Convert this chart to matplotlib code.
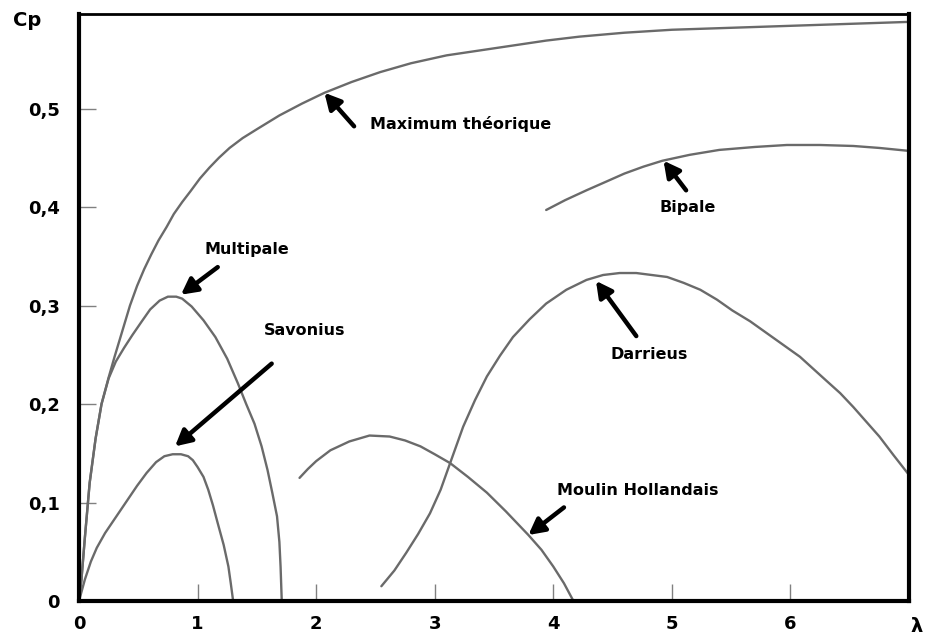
import matplotlib.pyplot as plt

# Cp vs tip speed ratio (lambda)
max_x = [0, 0.02, 0.05, 0.09, 0.14, 0.19, 0.25, 0.30, 0.37, 0.43, 0.49, 0.55, 0.61,
         0.67, 0.74, 0.80, 0.87, 0.94, 1.02, 1.10, 1.18, 1.27, 1.38, 1.50, 1.69, 1.88,
         2.07, 2.30, 2.54, 2.80, 3.10, 3.38, 3.66, 3.94, 4.22, 4.60, 5.0, 5.5, 6.0,
         6.5, 7.0]
max_y = [0, 0.021, 0.065, 0.12, 0.165, 0.20, 0.227, 0.248, 0.276, 0.30, 0.320, 0.337,
         0.352, 0.366, 0.380, 0.393, 0.405, 0.416, 0.429, 0.440, 0.450, 0.460, 0.470,
         0.479, 0.493, 0.505, 0.516, 0.527, 0.537, 0.546, 0.554, 0.559, 0.564, 0.569,
         0.573, 0.577, 0.580, 0.582, 0.584, 0.586, 0.588]

multi_x = [0, 0.02, 0.05, 0.09, 0.14, 0.19, 0.25, 0.31, 0.38, 0.45, 0.53, 0.60, 0.68,
           0.75, 0.82, 0.87, 0.95, 1.05, 1.15, 1.25, 1.34, 1.41, 1.48, 1.54, 1.59,
           1.63, 1.67, 1.69, 1.70, 1.71]
multi_y = [0, 0.021, 0.065, 0.12, 0.165, 0.20, 0.226, 0.243, 0.257, 0.270, 0.284,
           0.296, 0.305, 0.309, 0.309, 0.307, 0.299, 0.285, 0.268, 0.246, 0.221, 0.200,
           0.180, 0.157, 0.133, 0.110, 0.086, 0.060, 0.035, 0]

savo_x = [0, 0.05, 0.10, 0.15, 0.22, 0.31, 0.40, 0.49, 0.57, 0.65, 0.72, 0.79, 0.86,
          0.92, 0.96, 1.00, 1.05, 1.09, 1.13, 1.17, 1.22, 1.26, 1.28, 1.30]
savo_y = [0, 0.022, 0.040, 0.054, 0.069, 0.085, 0.101, 0.117, 0.130, 0.141, 0.147,
          0.149, 0.149, 0.147, 0.143, 0.136, 0.126, 0.113, 0.097, 0.079, 0.057, 0.035,
          0.018, 0]

moulin_x = [1.86, 1.93, 2.00, 2.12, 2.28, 2.45, 2.62, 2.75, 2.88, 3.00, 3.13, 3.28,
            3.44, 3.60, 3.79, 3.90, 4.00, 4.09, 4.17]
moulin_y = [0.125, 0.134, 0.142, 0.153, 0.162, 0.168, 0.167, 0.163, 0.157, 0.149,
            0.140, 0.126, 0.110, 0.091, 0.067, 0.052, 0.035, 0.018, 0]

darr_x = [2.55, 2.66, 2.76, 2.86, 2.96, 3.05, 3.13, 3.24, 3.34, 3.44, 3.55, 3.66, 3.80,
          3.94, 4.11, 4.28, 4.42, 4.56, 4.70, 4.83, 4.96, 5.10, 5.24, 5.38, 5.51, 5.66,
          5.80, 5.94, 6.08, 6.19, 6.30, 6.42, 6.53, 6.64, 6.75, 6.87, 7.0]
darr_y = [0.015, 0.031, 0.049, 0.068, 0.089, 0.113, 0.140, 0.177, 0.204, 0.228, 0.249,
          0.268, 0.286, 0.302, 0.316, 0.326, 0.331, 0.333, 0.333, 0.331, 0.329, 0.323,
          0.316, 0.306, 0.295, 0.284, 0.272, 0.260, 0.248, 0.236, 0.224, 0.211, 0.197,
          0.182, 0.167, 0.148, 0.128]

bip_x = [3.94, 4.10, 4.28, 4.45, 4.60, 4.76, 4.92, 5.15, 5.40, 5.70, 5.97, 6.25, 6.53,
         6.75, 7.0]
bip_y = [0.397, 0.407, 0.417, 0.426, 0.434, 0.441, 0.447, 0.453, 0.458, 0.461, 0.463,
         0.463, 0.462, 0.460, 0.457]

# label text, text position, arrow tail, arrow tip
labels = [
    ("Maximum théorique", (2.45, 0.484), (2.32, 0.482), (2.07, 0.516)),
    ("Multipale", (1.42, 0.357), (1.17, 0.339), (0.86, 0.311)),
    ("Savonius", (1.90, 0.275), (1.625, 0.241), (0.81, 0.157)),
    ("Darrieus", (4.81, 0.250), (4.70, 0.269), (4.36, 0.325)),
    ("Bipale", (5.13, 0.400), (5.12, 0.417), (4.93, 0.447)),
    ("Moulin Hollandais", (4.71, 0.112), (4.09, 0.095), (3.79, 0.067)),
]

xticks = [0, 1, 2, 3, 4, 5, 6]
xticklabels = ["0", "1", "2", "3", "4", "5", "6"]
yticks = [0, 0.1, 0.2, 0.3, 0.4, 0.5]
yticklabels = ["0", "0,1", "0,2", "0,3", "0,4", "0,5"]

fig = plt.figure(figsize=(9.27, 6.35), dpi=100)
ax = fig.add_axes([79 / 927, 34 / 635, 830 / 927, 587 / 635])

curve = dict(color="#6a6a6a", lw=1.7, solid_capstyle="round", solid_joinstyle="round")
for xs, ys in [(max_x, max_y), (multi_x, multi_y), (savo_x, savo_y),
               (moulin_x, moulin_y), (darr_x, darr_y), (bip_x, bip_y)]:
    ax.plot(xs, ys, **curve)

for text, tpos, tail, tip in labels:
    ax.annotate("", xy=tip, xytext=tail,
                arrowprops=dict(arrowstyle="-|>,head_length=0.95,head_width=0.5",
                                lw=3.2, color="black", shrinkA=0, shrinkB=0))
    ax.text(tpos[0], tpos[1], text, ha="center" if text != "Maximum théorique" else "left",
            va="center", fontsize=11.5, fontweight="bold", family="DejaVu Sans")

ax.set_xlim(0, 7)
ax.set_ylim(0, 0.596)
ax.set_xticks(xticks)
ax.set_xticklabels(xticklabels)
ax.set_yticks(yticks)
ax.set_yticklabels(yticklabels)
ax.tick_params(direction="in", length=12, width=1, color="#808080", pad=10,
               labelsize=13)
ax.tick_params(axis="y", pad=14)
for lab in ax.get_xticklabels() + ax.get_yticklabels():
    lab.set_fontweight("bold")
    lab.set_family("DejaVu Sans")

for side in ["left", "bottom", "right"]:
    ax.spines[side].set_linewidth(3)
ax.spines["top"].set_linewidth(2)

fig.text(27 / 927, 1 - 21 / 635, "Cp", ha="center", va="center", fontsize=14,
         fontweight="bold", family="DejaVu Sans")
fig.text(917 / 927, 1 - 626 / 635, "λ", ha="center", va="center", fontsize=14,
         fontweight="bold", family="DejaVu Sans")

fig.savefig("out.png", dpi=100)
